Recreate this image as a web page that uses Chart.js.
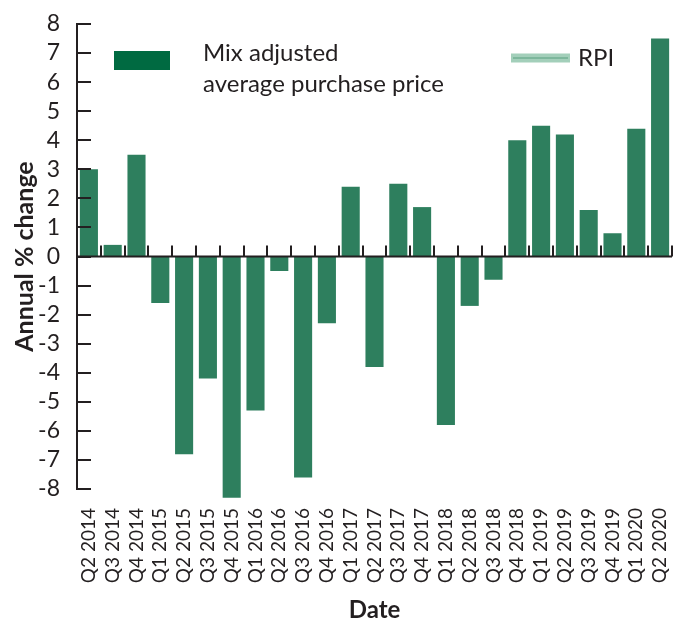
<!DOCTYPE html>
<html>
<head>
<meta charset="utf-8">
<script src="https://cdn.jsdelivr.net/npm/chart.js@4.4.1/dist/chart.umd.min.js"></script>
<style>
  body { margin: 0; background: #fff; }
  canvas { display: block; }
</style>
</head>
<body>
<canvas id="chart" width="679" height="619"></canvas>
<script>
// quarters on the x axis
const categories = [
  'Q2 2014', 'Q3 2014', 'Q4 2014',
  'Q1 2015', 'Q2 2015', 'Q3 2015', 'Q4 2015',
  'Q1 2016', 'Q2 2016', 'Q3 2016', 'Q4 2016',
  'Q1 2017', 'Q2 2017', 'Q3 2017', 'Q4 2017',
  'Q1 2018', 'Q2 2018', 'Q3 2018', 'Q4 2018',
  'Q1 2019', 'Q2 2019', 'Q3 2019', 'Q4 2019',
  'Q1 2020', 'Q2 2020'
];

// annual % change
const mixAdjusted = [
  3.0, 0.4, 3.5,
  -1.6, -6.8, -4.2, -8.3,
  -5.3, -0.5, -7.6, -2.3,
  2.4, -3.8, 2.5, 1.7,
  -5.8, -1.7, -0.8, 4.0,
  4.5, 4.2, 1.6, 0.8,
  4.4, 7.5
];

// RPI only shows up in the legend
const rpi = [];

const yMin = -8;
const yMax = 8;

const ink = '#231f20';
const font = 'Lato, "Open Sans", sans-serif';

// legend + the axis bits that sit inside the plot
const decorations = {
  id: 'decorations',
  afterDatasetsDraw(chart) {
    const { ctx, chartArea, scales } = chart;
    const x = scales.x;
    const y = scales.y;
    const zero = y.getPixelForValue(0);
    const step = x.width / categories.length;

    ctx.save();
    ctx.strokeStyle = ink;
    ctx.lineWidth = 2;

    // zero line with upward ticks at category boundaries
    ctx.beginPath();
    ctx.moveTo(chartArea.left, zero);
    ctx.lineTo(chartArea.right, zero);
    categories.forEach((c, i) => {
      const bx = Math.round(x.getPixelForValue(i) + step / 2);
      ctx.moveTo(bx, zero);
      ctx.lineTo(bx, zero - 11);
    });
    ctx.stroke();

    // y ticks pointing into the plot
    ctx.beginPath();
    y.ticks.forEach((t) => {
      const py = Math.round(y.getPixelForValue(t.value));
      ctx.moveTo(chartArea.left, py);
      ctx.lineTo(chartArea.left + 14, py);
    });
    ctx.stroke();

    // legend
    ctx.fillStyle = '#006a41';
    ctx.fillRect(114, 51, 56, 19);

    ctx.lineCap = 'butt';
    ctx.strokeStyle = '#a3cfba';
    ctx.lineWidth = 9;
    ctx.beginPath();
    ctx.moveTo(511, 58);
    ctx.lineTo(570, 58);
    ctx.stroke();
    ctx.strokeStyle = '#7db79c';
    ctx.lineWidth = 2;
    ctx.beginPath();
    ctx.moveTo(513, 58);
    ctx.lineTo(568, 58);
    ctx.stroke();

    ctx.fillStyle = ink;
    ctx.font = '24px ' + font;
    ctx.textBaseline = 'middle';
    ctx.textAlign = 'left';
    const label = chart.data.datasets[0].label;
    ctx.fillText(label[0], 203, 53);
    ctx.fillText(label[1], 203, 84);
    ctx.fillText(chart.data.datasets[1].label, 578, 58);
    ctx.restore();
  }
};

new Chart(document.getElementById('chart'), {
  type: 'bar',
  data: {
    labels: categories,
    datasets: [
      {
        label: ['Mix adjusted', 'average purchase price'],
        data: mixAdjusted,
        backgroundColor: '#2e7f5e',
        barPercentage: 0.76,
        categoryPercentage: 1.0,
        clip: false
      },
      {
        type: 'line',
        label: 'RPI',
        data: rpi,
        borderColor: '#a3cfba',
        borderWidth: 3,
        pointRadius: 0
      }
    ]
  },
  options: {
    responsive: false,
    animation: false,
    layout: { padding: { top: 24, right: 7, left: 0, bottom: 0 } },
    plugins: {
      legend: { display: false },
      tooltip: { enabled: false }
    },
    scales: {
      x: {
        grid: { display: false },
        border: { display: false },
        ticks: {
          autoSkip: false,
          minRotation: 90,
          maxRotation: 90,
          padding: 11,
          color: ink,
          font: { family: font, size: 19 }
        },
        title: {
          display: true,
          text: 'Date',
          color: ink,
          font: { family: font, size: 24, weight: 'bold' },
          padding: { top: 0, bottom: -6 }
        },
        afterFit: (s) => {
          s.height = 130;
          s.paddingLeft = 0;
          s.paddingRight = 0;
        }
      },
      y: {
        min: yMin,
        max: yMax,
        grid: { display: false },
        border: { display: true, color: ink, width: 2 },
        ticks: {
          stepSize: 1,
          autoSkip: false,
          padding: 9,
          color: ink,
          font: { family: font, size: 23 }
        },
        title: {
          display: true,
          text: 'Annual % change',
          color: ink,
          font: { family: font, size: 25, weight: 'bold' },
          padding: { top: 10, bottom: 0 }
        },
        afterFit: (s) => {
          s.width = 77;
          s.paddingTop = 0;
          s.paddingBottom = 0;
        }
      }
    }
  },
  plugins: [decorations]
});
</script>
</body>
</html>
